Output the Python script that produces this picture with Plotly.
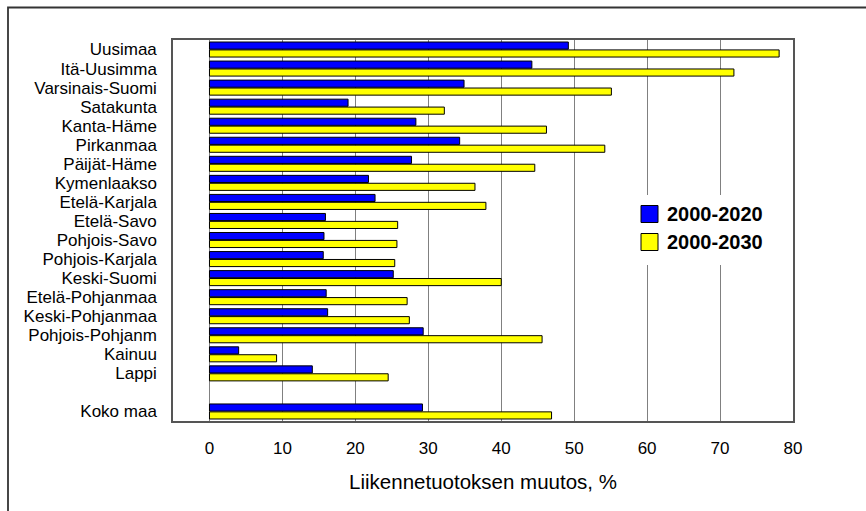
import plotly.graph_objects as go

# Regions and traffic-volume change (%) for two horizons
regions = [
    "Uusimaa", "Itä-Uusimma", "Varsinais-Suomi", "Satakunta", "Kanta-Häme",
    "Pirkanmaa", "Päijät-Häme", "Kymenlaakso", "Etelä-Karjala", "Etelä-Savo",
    "Pohjois-Savo", "Pohjois-Karjala", "Keski-Suomi", "Etelä-Pohjanmaa",
    "Keski-Pohjanmaa", "Pohjois-Pohjanm", "Kainuu", "Lappi", "Koko maa",
]
change_2020 = [49.2, 44.2, 34.9, 19.0, 28.3, 34.3, 27.7, 21.8, 22.7, 15.9,
               15.7, 15.6, 25.2, 16.0, 16.2, 29.3, 4.0, 14.1, 29.2]
change_2030 = [78.1, 71.9, 55.1, 32.2, 46.2, 54.2, 44.6, 36.4, 37.9, 25.8,
               25.7, 25.4, 40.0, 27.1, 27.4, 45.6, 9.2, 24.5, 46.9]
series_names = ["2000-2020", "2000-2030"]
x_ticks = [0, 10, 20, 30, 40, 50, 60, 70, 80]

# Regions occupy rows 0..17, one blank row, then the national total
rows = list(range(len(regions) - 1)) + [len(regions)]

FONT = "Arial, 'Liberation Sans', sans-serif"
BLUE = "#0000FF"
YELLOW = "#FFFF00"

fig = go.Figure()
for name, vals, col in [(series_names[0], change_2020, BLUE),
                        (series_names[1], change_2030, YELLOW)]:
    fig.add_trace(go.Bar(
        y=rows, x=vals, name=name, orientation="h",
        marker=dict(color=col, line=dict(color="#000000", width=1)),
        showlegend=False, hoverinfo="x+name",
    ))

# Pixel -> paper helpers for the legend and the outer frame
L, R, T, B = 173, 73, 40, 90
W, H = 866, 511
pw, ph = W - L - R, H - T - B


def px(x):
    return (x - L) / pw


def py(y):
    return (H - B - y) / ph


shapes = [
    # outer chart frame (left and top edges)
    dict(type="path", xref="paper", yref="paper",
         path=f"M {px(8)},{py(560)} L {px(8)},{py(7.5)} L {px(900)},{py(7.5)}",
         line=dict(color="#333333", width=1.8)),
    # legend background
    dict(type="rect", xref="paper", yref="paper",
         x0=px(632), x1=px(788), y0=py(265), y1=py(195),
         fillcolor="white", line=dict(width=0), layer="above"),
    # legend swatches
    dict(type="rect", xref="paper", yref="paper",
         x0=px(641), x1=px(658), y0=py(222.5), y1=py(205.5),
         fillcolor=BLUE, line=dict(color="#000000", width=1), layer="above"),
    dict(type="rect", xref="paper", yref="paper",
         x0=px(641), x1=px(658), y0=py(250.5), y1=py(233.5),
         fillcolor=YELLOW, line=dict(color="#000000", width=1), layer="above"),
]

annotations = [
    dict(xref="paper", yref="paper", x=px(665), y=py(214), text=series_names[0],
         showarrow=False, xanchor="left", yanchor="middle",
         font=dict(family=FONT, size=20, color="#000000", weight="bold")),
    dict(xref="paper", yref="paper", x=px(665), y=py(242), text=series_names[1],
         showarrow=False, xanchor="left", yanchor="middle",
         font=dict(family=FONT, size=20, color="#000000", weight="bold")),
]

fig.update_layout(
    width=W, height=H,
    margin=dict(l=L, r=R, t=T, b=B, pad=0),
    paper_bgcolor="white", plot_bgcolor="white",
    barmode="group", bargap=0.17, bargroupgap=0.1,
    font=dict(family=FONT, color="#000000"),
    shapes=shapes, annotations=annotations,
    xaxis=dict(
        range=[-5, 80], tickvals=x_ticks, ticks="",
        showgrid=True, gridcolor="#808080", gridwidth=1.3,
        zeroline=False, showline=True, mirror=True,
        linecolor="#555555", linewidth=1.5,
        tickfont=dict(family=FONT, size=17, color="#000000"),
        ticklabelstandoff=11,
        title=dict(text="Liikennetuotoksen muutos, %",
                   font=dict(family=FONT, size=20.5, color="#000000"),
                   standoff=17),
    ),
    yaxis=dict(
        range=[len(regions) + 0.5, -0.5], tickvals=rows, ticktext=regions,
        ticks="", showgrid=False, zeroline=False,
        showline=True, mirror=True, linecolor="#555555", linewidth=1.5,
        tickfont=dict(family=FONT, size=17, color="#000000"),
        ticklabelstandoff=11,
    ),
)

fig.write_html("out.html")
